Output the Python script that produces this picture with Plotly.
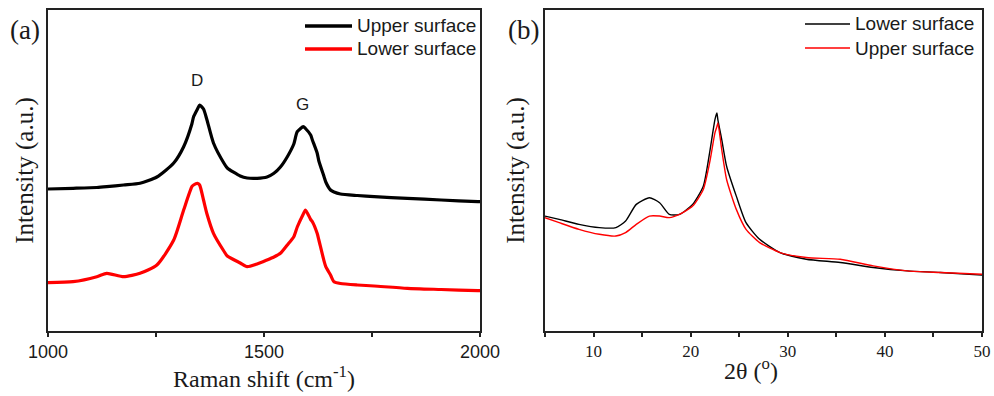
import plotly.graph_objects as go

# ---------------- Panel (a): Raman spectra ----------------
raman_shift = [1000, 1058, 1113, 1136, 1175, 1213, 1252, 1291, 1314, 1333, 1337, 1346, 1351,
               1360, 1368, 1383, 1407, 1415, 1445, 1461, 1484, 1507, 1523, 1538, 1554, 1569,
               1577, 1591, 1596, 1608, 1612, 1623, 1627, 1639, 1643, 1654, 1662, 1677, 1716,
               1755, 1832, 1910, 1995, 2000]
raman_upper = [142, 142.7, 143.5, 144.3, 146, 147.7, 154, 168, 184.3, 207, 214.3, 222, 226,
               222, 211, 188, 168, 163, 155, 153, 152.7, 154, 157.7, 164, 174.3, 187,
               199.3, 204.3, 202.5, 196, 191, 178, 170, 154.3, 149, 141, 139, 137, 135.5,
               134.3, 132.7, 131, 129.3, 129.3]
raman_lower = [48.3, 49.3, 54.3, 57.7, 54.3, 57.7, 66, 91, 121, 144.3, 146, 147.7, 146,
               131, 117, 97.7, 80, 75, 68, 64.3, 67, 71, 74, 77.7, 86, 94.3,
               104, 117, 121, 111.5, 109.3, 97.7, 91, 70, 64.3, 56, 49.3, 47.5, 46,
               45, 42.7, 41.5, 40.3, 40.3]
raman_names = ["Upper surface", "Lower surface"]
raman_peak_labels = ["D", "G"]
raman_peak_pos = [1345, 1588]
raman_peak_height = [251, 227]

# ---------------- Panel (b): XRD patterns ----------------
two_theta = [5.0, 6.46, 8.5, 10.6, 12.3, 13.3, 14.4, 15.75, 16.8, 17.8, 18.85, 20.2, 21.3,
             21.95, 22.5, 22.7, 22.8, 23.2, 23.7, 24.7, 25.7, 27.1, 29.2, 31.9, 35.4, 38.8,
             42.3, 45.7, 50.0]
xrd_lower = [115.3, 112, 107, 103.7, 103.7, 110.3, 127, 133.7, 128.7, 117, 117, 127, 145.3,
             178.7, 212, 218.7, 212, 192, 165.3, 135.3, 108.7, 92, 78.7, 72, 68.7, 63.7,
             60.3, 58.7, 56]
xrd_upper = [113.7, 108.7, 102, 97, 95.3, 98.7, 107, 115.3, 115.3, 113.7, 117, 125.3, 142,
             168.7, 198.7, 205, 208.7, 182, 152, 122, 102, 88.7, 78.7, 73.7, 72, 65.3,
             60.3, 58.7, 57]
xrd_names = ["Lower surface", "Upper surface"]

SANS = "Liberation Sans, Arial, sans-serif"
SERIF = "Liberation Serif, Times New Roman, serif"
INK = "#1a1a1a"
W, H = 994, 396

fig = go.Figure()

fig.add_trace(go.Scatter(x=raman_shift, y=raman_upper, mode="lines", name=raman_names[0],
                         line=dict(color="black", width=3.2, shape="spline", smoothing=0.6),
                         xaxis="x", yaxis="y"))
fig.add_trace(go.Scatter(x=raman_shift, y=raman_lower, mode="lines", name=raman_names[1],
                         line=dict(color="#ff0000", width=3.2, shape="spline", smoothing=0.6),
                         xaxis="x", yaxis="y"))

fig.add_trace(go.Scatter(x=two_theta, y=xrd_lower, mode="lines", name=xrd_names[0],
                         line=dict(color="black", width=1.4, shape="spline", smoothing=0.6),
                         xaxis="x2", yaxis="y2"))
fig.add_trace(go.Scatter(x=two_theta, y=xrd_upper, mode="lines", name=xrd_names[1],
                         line=dict(color="#ff0000", width=1.4, shape="spline", smoothing=0.6),
                         xaxis="x2", yaxis="y2"))

for lab, xp, yp in zip(raman_peak_labels, raman_peak_pos, raman_peak_height):
    fig.add_annotation(x=xp, y=yp, xref="x", yref="y", text=lab, showarrow=False,
                       font=dict(family=SANS, size=17, color=INK))

axis_line = dict(showline=True, linecolor="#222", linewidth=1.5, mirror=True,
                 showgrid=False, zeroline=False, automargin=False)

ydom = [65 / H, 386 / H]

fig.update_layout(
    width=W, height=H,
    margin=dict(l=0, r=0, t=0, b=0, autoexpand=False),
    paper_bgcolor="white", plot_bgcolor="white",
    showlegend=False,
    xaxis=dict(domain=[48 / W, 480 / W], range=[1000, 2000], anchor="y",
               tickvals=[1000, 1500, 2000], ticks="outside", ticklen=4, tickwidth=1.5,
               tickcolor="#222",
               minor=dict(ticks="outside", dtick=250, tick0=1000, ticklen=4, tickwidth=1.5,
                          tickcolor="#222"),
               tickfont=dict(family=SANS, size=18, color=INK),
               title=dict(text="Raman shift (cm<sup>-1</sup>)", standoff=6,
                          font=dict(family=SERIF, size=24, color=INK)),
               **axis_line),
    yaxis=dict(domain=ydom, range=[0, 321], anchor="x", showticklabels=False, ticks="",
               title=dict(text="Intensity (a.u.)", standoff=6,
                          font=dict(family=SERIF, size=25, color=INK)),
               **axis_line),
    xaxis2=dict(domain=[545 / W, 982 / W], range=[5, 50], anchor="y2",
                tickvals=[10, 20, 30, 40, 50], ticks="outside", ticklen=4, tickwidth=1.5,
                tickcolor="#222",
                minor=dict(ticks="outside", dtick=5, tick0=5, ticklen=4, tickwidth=1.5,
                           tickcolor="#222"),
                tickfont=dict(family=SERIF, size=17, color=INK),
                **axis_line),
    yaxis2=dict(domain=ydom, range=[0, 322], anchor="x2", showticklabels=False, ticks="",
                title=dict(text="Intensity (a.u.)", standoff=12,
                           font=dict(family=SERIF, size=25, color=INK)),
                **axis_line),
)

# x-axis title of panel (b), placed off-centre as in the original figure
fig.add_annotation(x=751 / W, y=1 - 369 / H, xref="paper", yref="paper",
                   text="2θ (<sup>o</sup>)", showarrow=False, xanchor="center", yanchor="middle",
                   font=dict(family=SERIF, size=24, color=INK))

# hand-drawn legends (long line samples, tight spacing as in the original)
def legend_block(names, colors, width, x0, x1, ys):
    for name, col, yy in zip(names, colors, ys):
        fig.add_shape(type="line", xref="paper", yref="paper",
                      x0=x0 / W, x1=x1 / W, y0=1 - yy / H, y1=1 - yy / H,
                      line=dict(color=col, width=width))
        fig.add_annotation(x=(x1 + 3) / W, y=1 - yy / H, xref="paper", yref="paper",
                           text=name, showarrow=False, xanchor="left", yanchor="middle",
                           font=dict(family=SANS, size=19, color=INK))

legend_block(raman_names, ["black", "#ff0000"], 3.5, 305, 352, [26, 49])
legend_block(xrd_names, ["black", "#ff0000"], 1.5, 805, 850, [24, 48])

fig.add_annotation(x=8 / W, y=1 - 30 / H, xref="paper", yref="paper", text="(a)",
                   showarrow=False, xanchor="left", yanchor="middle",
                   font=dict(family=SERIF, size=27, color=INK))
fig.add_annotation(x=506 / W, y=1 - 30 / H, xref="paper", yref="paper", text="(b)",
                   showarrow=False, xanchor="left", yanchor="middle",
                   font=dict(family=SERIF, size=27, color=INK))

fig.write_html("out.html", config={"displayModeBar": False},
               post_script="document.body.style.margin='0';document.body.style.overflow='hidden';")
